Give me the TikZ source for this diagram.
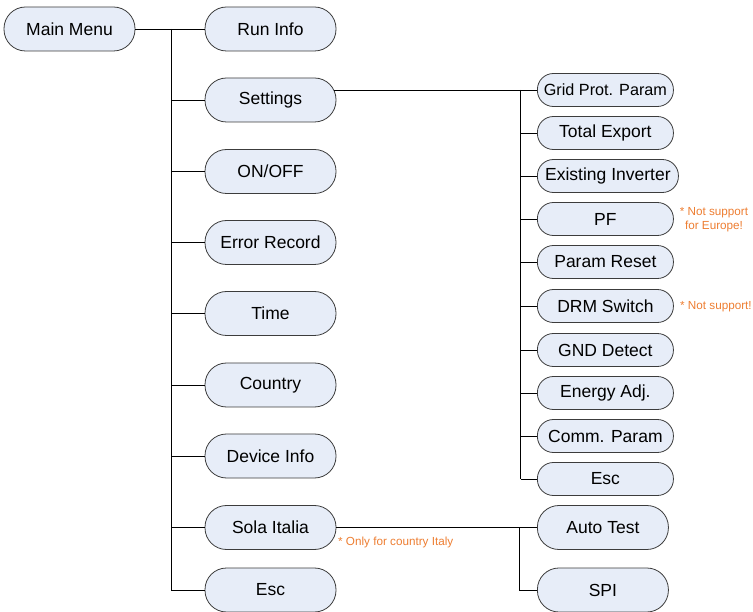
\documentclass[tikz,border=0pt]{standalone}
\usepackage{fontspec}
\setmainfont{Liberation Sans}
\usetikzlibrary{calc, positioning}
\definecolor{mymenufill}{RGB}{231, 237, 248}
\definecolor{mymenuline}{RGB}{60, 60, 60}
\definecolor{mynoteorange}{RGB}{237, 125, 49}

\tikzset{
  menubig/.style={draw=mymenuline, fill=mymenufill, line width=0.8pt, rounded corners=21.5pt, minimum width=131, minimum height=44, text centered, inner sep=0, font=\fontsize{17.5}{20}\selectfont},
  menusmall/.style={draw=mymenuline, fill=mymenufill, line width=0.8pt, rounded corners=16pt, minimum width=136, minimum height=33, anchor=west, inner xsep=3, inner ysep=0, font=\fontsize{17.5}{20}\selectfont},
  menunote/.style={text=mynoteorange, align=center, inner sep=0, font=\fontsize{11.7}{14}\selectfont},
  menulink/.style={line width=0.8pt, black}
}

\begin{document}
\begin{tikzpicture}[x=1pt, y=1pt]
\useasboundingbox (0,0) rectangle (753,-612);

% --- Main menu and first level ---
\node at (69.5,-29) [menubig] (main) {Main Menu};
\node at (270.5,-29) [menubig] (runinfo) {Run Info};
\node at (270.5,-100) [menubig] (settings) {Settings};
\node at (270.5,-171.5) [menubig] (onoff) {ON/OFF};
\node at (270.5,-242.5) [menubig] (errrec) {Error Record};
\node at (270.5,-313.5) [menubig] (time) {Time};
\node at (270.5,-385) [menubig] (country) {Country};
\node at (270.5,-456) [menubig] (devinfo) {Device Info};
\node at (270.5,-527.5) [menubig] (sola) {Sola Italia};
\node at (270.5,-590) [menubig] (escmain) {Esc};
\coordinate (trunkmain) at (171,0);

% --- Settings submenu ---
\node at (537,-90) [menusmall, font=\fontsize{16.2}{20}\selectfont] (gridprot) {Grid Prot. Param};
\node at (537,-133) [menusmall] (totexp) {Total Export};
\node at (537,-176) [menusmall, minimum width=141] (existinv) {Existing Inverter};
\node at (537,-219) [menusmall] (pf) {PF};
\node at (537,-262) [menusmall] (paramreset) {Param Reset};
\node at (537,-306) [menusmall] (drm) {DRM Switch};
\node at (537,-350) [menusmall] (gnd) {GND Detect};
\node at (537,-393) [menusmall] (energy) {Energy Adj.};
\node at (537,-436) [menusmall] (comm) {Comm. Param};
\node at (537,-479) [menusmall] (escset) {Esc};
\coordinate (trunkset) at (520.5,0);

% --- Sola Italia submenu ---
\node at (537,-527.5) [menubig, anchor=west] (autotest) {Auto Test};
\node at (537,-590) [menubig, anchor=west] (spi) {SPI};
\coordinate (trunksola) at (519,0);

% --- Notes ---
\node at (714,-220) [menunote] (notepf) {* Not support\\for Europe!};
\node at (680,-307) [menunote, anchor=west] (notedrm) {* Not support!};
\node at (338,-542) [menunote, anchor=west] (notesola) {* Only for country Italy};

% --- Links, first level ---
\draw [menulink] (main.east) -- (main.east -| trunkmain);
\draw [menulink] (runinfo.west -| trunkmain) -- (escmain.west -| trunkmain);
\foreach \child in {runinfo, settings, onoff, errrec, time, country, devinfo, sola, escmain}
  \draw [menulink] (\child.west -| trunkmain) -- (\child.west);

% --- Links, Settings ---
\draw [menulink] ([xshift=-2.5]settings.east |- gridprot.west) -- (gridprot.west);
\draw [menulink] (gridprot.west -| trunkset) -- (escset.west -| trunkset);
\foreach \child in {totexp, existinv, pf, paramreset, drm, gnd, energy, comm, escset}
  \draw [menulink] (\child.west -| trunkset) -- (\child.west);

% --- Links, Sola Italia ---
\draw [menulink] (sola.east) -- (autotest.west);
\draw [menulink] (sola.east -| trunksola) |- (spi.west);
\end{tikzpicture}
\end{document}
